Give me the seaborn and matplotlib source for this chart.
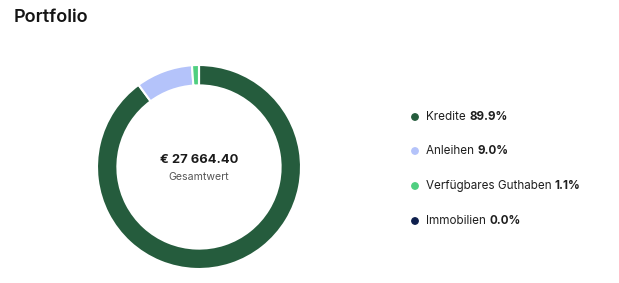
import matplotlib
matplotlib.use("Agg")
import matplotlib.pyplot as plt
import seaborn as sns

categories = ["Kredite", "Anleihen", "Verfügbares Guthaben", "Immobilien"]
shares = [89.9, 9.0, 1.1, 0.0]
share_labels = ["89.9%", "9.0%", "1.1%", "0.0%"]
colors = ["#255c3d", "#b4c3fa", "#4fcf80", "#0e1f4d"]
title = "Portfolio"
total_label = "€ 27 664.40"
total_caption = "Gesamtwert"

sns.set_theme(style="white")
plt.rcParams["font.family"] = ["Inter", "DejaVu Sans"]

W, H = 619, 283
fig = plt.figure(figsize=(W / 100, H / 100), dpi=100)
fig.patch.set_facecolor("white")

cx, cy, r = 199, 167, 102
ax = fig.add_axes([(cx - r) / W, (H - cy - r) / H, 2 * r / W, 2 * r / H])
ax.pie(shares, colors=colors, startangle=90, counterclock=False, radius=1.0,
       wedgeprops=dict(width=0.2, edgecolor="white", linewidth=1.5))
ax.set_xlim(-1.0, 1.0)
ax.set_ylim(-1.0, 1.0)
ax.set_aspect("equal")
ax.axis("off")

ax.text(0, 0.07, total_label, ha="center", va="center", fontsize=9.3,
        fontweight="bold", color="#1a1a1a")
ax.text(0, -0.1, total_caption, ha="center", va="center", fontsize=7.6,
        color="#555555")

fig.text(14 / W, 1 - 17 / H, title, ha="left", va="center", fontsize=13,
         fontweight="semibold", color="#141414")

fig.canvas.draw()
renderer = fig.canvas.get_renderer()
ys = [117, 151, 186, 221]
for cat, lab, col, y in zip(categories, share_labels, colors, ys):
    yf = 1 - y / H
    fig.patches.append(plt.Circle((415, H - y), 3.2, color=col,
                                  transform=None, figure=fig))
    t = fig.text(426 / W, yf, cat + " ", ha="left", va="center", fontsize=8.4,
                 color="#1f1f1f")
    bb = t.get_window_extent(renderer)
    fig.text(bb.x1 / W, yf, lab, ha="left", va="center", fontsize=8.4,
             fontweight="bold", color="#1f1f1f")

fig.savefig("out.png", dpi=100, facecolor="white")
